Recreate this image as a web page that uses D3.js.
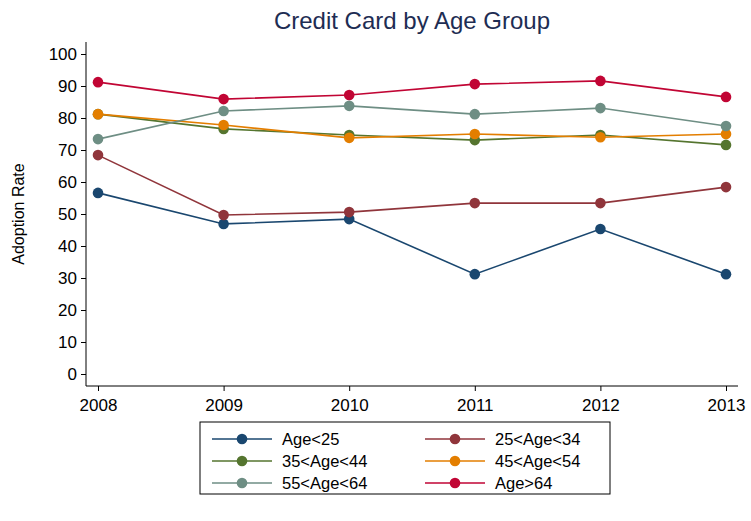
<!DOCTYPE html><html><head><meta charset="utf-8"><script src="https://cdn.jsdelivr.net/npm/d3@7"></script>
<style>body{margin:0;background:#fff}text{font-family:Arial,"Liberation Sans",sans-serif}</style></head><body><svg width="751" height="521"></svg><script>
const years=[2008,2009,2010,2011,2012,2013];
const seriesNames=["Age<25","25<Age<34","35<Age<44","45<Age<54","55<Age<64","Age>64"];
const colors=["#1a476f","#90353b","#55752f","#e37e00","#6e8e84","#c10534"];
const age25=[56.6,46.9,48.4,31.2,45.3,31.2];
const age34=[68.4,49.7,50.6,53.4,53.4,58.4];
const age44=[81.2,76.6,74.7,73.1,74.7,71.6];
const age54=[81.2,77.8,73.8,75.0,74.0,75.0];
const age64=[73.4,82.2,83.8,81.2,83.1,77.5];
const age65=[91.2,85.9,87.2,90.6,91.6,86.6];
const yTicks=[0,10,20,30,40,50,60,70,80,90,100];
const data=[age25,age34,age44,age54,age64,age65];
const svg=d3.select("svg");
const x=d3.scaleLinear().domain([2008,2013]).range([98,726]);
const y=d3.scaleLinear().domain([0,100]).range([374,54]);
svg.append("text").attr("x",412).attr("y",29).attr("text-anchor","middle").attr("font-size",24).attr("fill","#1e2d53").text("Credit Card by Age Group");
const ya=svg.append("g").attr("transform","translate(86,0)").call(d3.axisLeft(y).tickValues(yTicks).tickSize(5).tickSizeOuter(0));
ya.select(".domain").attr("d","M0,42V386");
const xa=svg.append("g").attr("transform","translate(0,386)").call(d3.axisBottom(x).tickValues(years).tickFormat(d3.format("d")).tickSize(5).tickSizeOuter(0));
xa.select(".domain").attr("d","M86,0H738");
svg.selectAll(".tick text").style("font-size","17px").attr("fill","#000");
ya.selectAll(".tick text").attr("dx","-1");
xa.selectAll(".tick text").attr("dy","1em");
svg.append("text").attr("transform","translate(24,214) rotate(-90)").attr("text-anchor","middle").style("font-size","16px").text("Adoption Rate");
const line=d3.line().x((d,i)=>x(years[i])).y(d=>y(d));
data.forEach((s,k)=>{
 svg.append("path").attr("d",line(s)).attr("fill","none").attr("stroke",colors[k]).attr("stroke-width",1.6);
 svg.selectAll(null).data(s).enter().append("circle").attr("cx",(d,i)=>x(years[i])).attr("cy",d=>y(d)).attr("r",5.3).attr("fill",colors[k]);
});
svg.append("rect").attr("x",200).attr("y",422).attr("width",410).attr("height",72).attr("fill","none").attr("stroke","#000").attr("stroke-width",1);
seriesNames.forEach((n,k)=>{
 const cx=k%2?425:212, cy=439+Math.floor(k/2)*22;
 const g=svg.append("g");
 g.append("line").attr("x1",cx).attr("x2",cx+60).attr("y1",cy).attr("y2",cy).attr("stroke",colors[k]).attr("stroke-width",1.6);
 g.append("circle").attr("cx",cx+30).attr("cy",cy).attr("r",5.3).attr("fill",colors[k]);
 g.append("text").attr("x",cx+70).attr("y",cy+6).style("font-size","16.5px").text(n);
});
</script></body></html>
